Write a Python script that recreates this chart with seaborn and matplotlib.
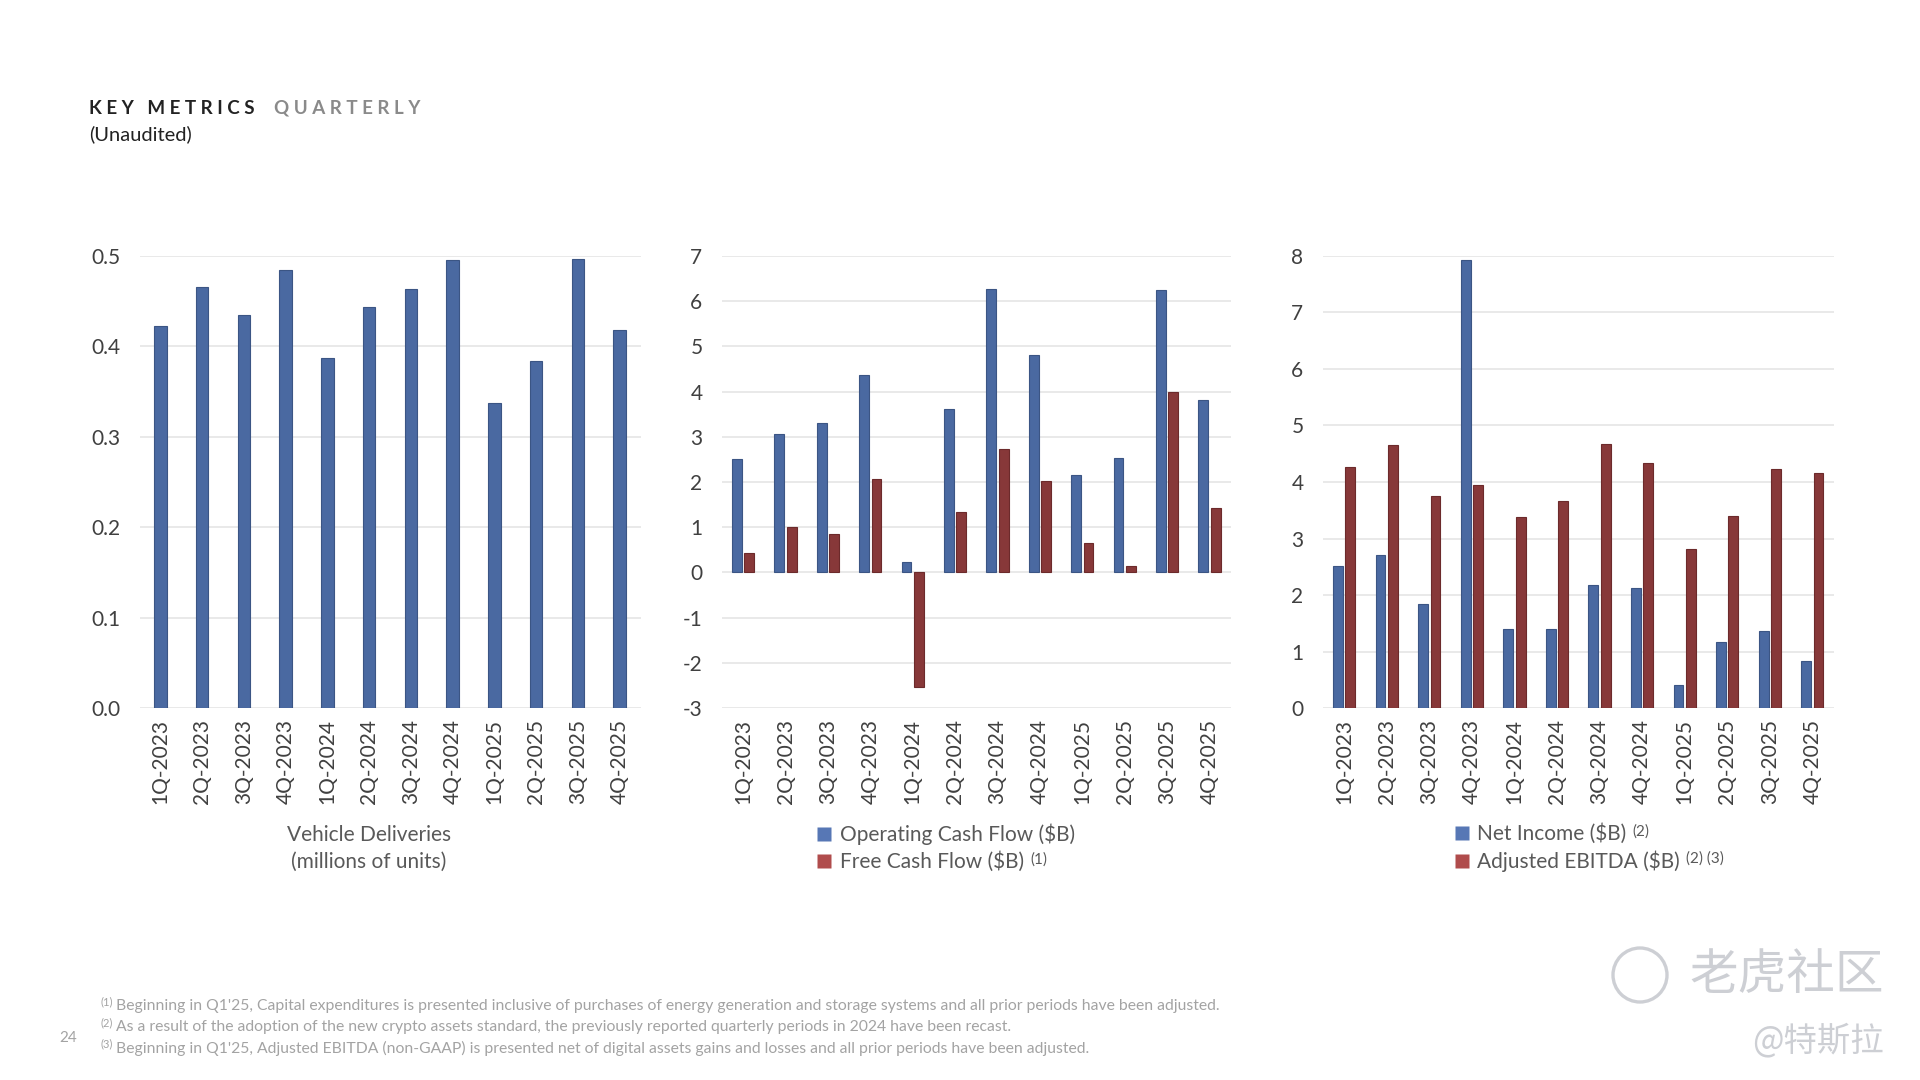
import matplotlib
matplotlib.use("Agg")
import matplotlib.pyplot as plt
import seaborn as sns
import pandas as pd
from matplotlib.lines import Line2D
from matplotlib.patches import Circle

# values
quarters = ["1Q-2023", "2Q-2023", "3Q-2023", "4Q-2023",
            "1Q-2024", "2Q-2024", "3Q-2024", "4Q-2024",
            "1Q-2025", "2Q-2025", "3Q-2025", "4Q-2025"]
deliveries = [0.423, 0.466, 0.435, 0.485, 0.387, 0.444,
              0.463, 0.496, 0.337, 0.384, 0.497, 0.418]
operating_cf = [2.51, 3.07, 3.31, 4.37, 0.24, 3.61,
                6.26, 4.81, 2.16, 2.54, 6.24, 3.81]
free_cf = [0.44, 1.01, 0.85, 2.06, -2.53, 1.34,
           2.74, 2.03, 0.66, 0.15, 3.99, 1.42]
net_income = [2.51, 2.70, 1.85, 7.93, 1.39, 1.40,
              2.17, 2.12, 0.41, 1.17, 1.37, 0.84]
adj_ebitda = [4.27, 4.65, 3.76, 3.95, 3.38, 3.67,
              4.67, 4.33, 2.81, 3.40, 4.23, 4.16]

ops_labels = ["Operating Cash Flow ($B)", "Free Cash Flow ($B)"]
ops_notes = ["", "(1)"]
earn_labels = ["Net Income ($B)", "Adjusted EBITDA ($B)"]
earn_notes = ["(2)", "(2) (3)"]
footnotes = [
    ("(1)", "Beginning in Q1'25, Capital expenditures is presented inclusive of purchases of energy generation and storage systems and all prior periods have been adjusted."),
    ("(2)", "As a result of the adoption of the new crypto assets standard, the previously reported quarterly periods in 2024 have been recast."),
    ("(3)", "Beginning in Q1'25, Adjusted EBITDA (non-GAAP) is presented net of digital assets gains and losses and all prior periods have been adjusted."),
]

BLUE = "#4a69a1"
BLUE_EDGE = "#3b5584"
RED = "#873839"
RED_EDGE = "#6c2a2b"
LEG_BLUE = "#5777b5"
LEG_RED = "#b04c4c"
TICK = "#404040"
LABEL = "#595959"
GRID = "#e3e3e3"
NOTE = "#a3a3a3"
MARK = "#cdcfd4"

sns.set_theme(style="white")
plt.rcParams["font.family"] = ["Lato", "Noto Sans CJK SC", "DejaVu Sans"]
plt.rcParams["axes.unicode_minus"] = False


def style_axis(ax, ymin, ymax, step, fmt):
    ax.set_xlim(-0.5, len(quarters) - 0.5)
    ax.set_ylim(ymin, ymax)
    ticks = [ymin + i * step for i in range(int(round((ymax - ymin) / step)) + 1)]
    ax.set_yticks(ticks)
    ax.set_yticklabels([fmt.format(t) for t in ticks])
    ax.grid(axis="y", color=GRID, linewidth=1.1)
    ax.grid(axis="x", visible=False)
    ax.set_axisbelow(True)
    for s in ax.spines.values():
        s.set_visible(False)
    ax.tick_params(axis="y", length=0, pad=14, labelsize=15, labelcolor=TICK)
    ax.tick_params(axis="x", length=0, pad=8, labelsize=15, labelcolor=TICK,
                   labelrotation=90)
    ax.set_xlabel("")
    ax.set_ylabel("")


def two_series(ax, a, b, names):
    df = pd.DataFrame({
        "quarter": quarters * 2,
        "value": a + b,
        "series": [names[0]] * len(quarters) + [names[1]] * len(quarters),
    })
    sns.barplot(data=df, x="quarter", y="value", hue="series", order=quarters,
                hue_order=names, palette=[BLUE, RED], width=0.58, gap=0.2,
                legend=False, ax=ax, linewidth=0.8)
    for cont, col, edge in zip(ax.containers, [BLUE, RED], [BLUE_EDGE, RED_EDGE]):
        for bar in cont:
            bar.set_facecolor(col)
            bar.set_edgecolor(edge)


def add_legend(fig, x, y, labels):
    handles = [Line2D([0], [0], marker="s", linestyle="none", markersize=10,
                      markerfacecolor=c, markeredgecolor="none")
               for c in [LEG_BLUE, LEG_RED]]
    leg = fig.legend(handles, labels, loc="upper left", bbox_to_anchor=(x, y),
                     frameon=False, fontsize=15, labelcolor=LABEL,
                     handlelength=0.8, handletextpad=0.35, labelspacing=0.3,
                     borderpad=0, borderaxespad=0)
    return leg


fig = plt.figure(figsize=(19.2, 10.8), dpi=100)
fig.patch.set_facecolor("white")
ax1 = fig.add_axes([0.0727, 0.3444, 0.2609, 0.4186])
ax2 = fig.add_axes([0.376, 0.3444, 0.265, 0.4186])
ax3 = fig.add_axes([0.689, 0.3444, 0.266, 0.4186])

# vehicle deliveries
df1 = pd.DataFrame({"quarter": quarters, "value": deliveries})
sns.barplot(data=df1, x="quarter", y="value", order=quarters, color=BLUE,
            width=0.3, ax=ax1, edgecolor=BLUE_EDGE, linewidth=0.8, saturation=1)
style_axis(ax1, 0.0, 0.5, 0.1, "{:.1f}")

# cash flow
two_series(ax2, operating_cf, free_cf, ops_labels)
style_axis(ax2, -3, 7, 1, "{:.0f}")

# earnings
two_series(ax3, net_income, adj_ebitda, earn_labels)
style_axis(ax3, 0, 8, 1, "{:.0f}")

fig.text(0.192, 0.236, "Vehicle Deliveries\n(millions of units)", ha="center",
         va="top", fontsize=15, color=LABEL, linespacing=1.4)
legends = [(add_legend(fig, 0.425, 0.2375, ops_labels), ops_notes),
           (add_legend(fig, 0.757, 0.2375, earn_labels), earn_notes)]

# heading
fig.text(0.0463, 0.9, "K E Y   M E T R I C S", fontsize=13.5,
         fontweight="bold", color="#222222", va="center")
fig.text(0.1425, 0.9, "Q U A R T E R L Y", fontsize=13.5, fontweight="bold",
         color="#8a8a8a", va="center")
fig.text(0.0463, 0.876, "(Unaudited)", fontsize=14.5, color="#222222",
         va="center")

# footnotes
for i, (mark, note) in enumerate(footnotes):
    y = 0.0683 - i * 0.0196
    fig.text(0.0523, y + 0.004, mark, fontsize=8, color=NOTE, va="center")
    fig.text(0.0602, y, note, fontsize=11.3, color=NOTE, va="center")
fig.text(0.0307, 0.0390, "24", fontsize=11, color=NOTE, va="center")

# watermark
fig.add_artist(Circle((16.40, 1.05), 0.27, transform=fig.dpi_scale_trans,
                      fill=False, edgecolor=MARK, linewidth=2.4))
fig.text(0.981, 0.097, "老虎社区", ha="right", va="center", fontsize=35,
         color=MARK, family=["Noto Sans CJK SC", "DejaVu Sans"])
fig.text(0.981, 0.036, "@特斯拉", ha="right", va="center", fontsize=24,
         color=MARK, family=["Noto Sans CJK SC", "DejaVu Sans"])

# superscript notes after the legend labels
fig.canvas.draw()
W, H = fig.canvas.get_width_height()
for leg, notes in legends:
    for txt, note in zip(leg.get_texts(), notes):
        if note:
            bb = txt.get_window_extent()
            fig.text((bb.x1 + 6) / W, (bb.y1 - 1) / H, note, ha="left", va="top",
                     fontsize=11, color=LABEL)

fig.savefig("out.png", dpi=100, facecolor="white")
